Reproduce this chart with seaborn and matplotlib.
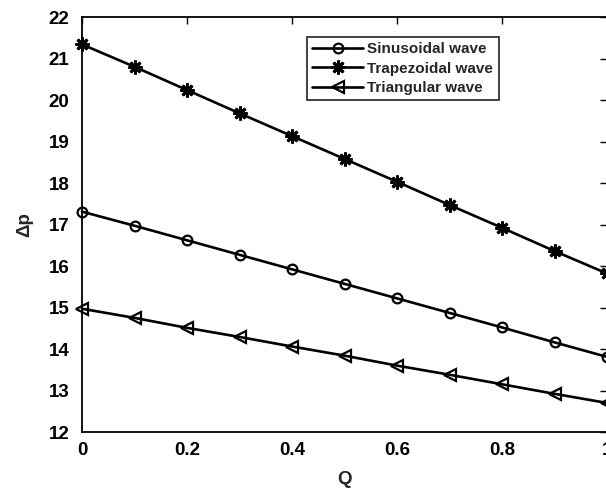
import numpy as np
import pandas as pd
import matplotlib
matplotlib.use("Agg")
import matplotlib.pyplot as plt
import seaborn as sns

Q = [0.0, 0.1, 0.2, 0.3, 0.4, 0.5, 0.6, 0.7, 0.8, 0.9, 1.0]
sinusoidal = [17.31, 16.97, 16.62, 16.27, 15.92, 15.57, 15.22, 14.87, 14.52, 14.16, 13.81]
trapezoidal = [21.34, 20.80, 20.24, 19.68, 19.13, 18.58, 18.03, 17.47, 16.92, 16.36, 15.82]
triangular = [14.97, 14.75, 14.51, 14.29, 14.06, 13.84, 13.60, 13.38, 13.15, 12.92, 12.70]
series_names = ["Sinusoidal wave", "Trapezoidal wave", "Triangular wave"]
x_ticks = [0, 0.2, 0.4, 0.6, 0.8, 1]
x_tick_labels = ["0", "0.2", "0.4", "0.6", "0.8", "1"]
y_ticks = list(range(12, 23))

sns.set_style("white")
plt.rcParams["font.family"] = ["Liberation Sans", "DejaVu Sans"]
plt.rcParams["font.weight"] = "bold"

df = pd.DataFrame({"Q": Q * 3,
                   "dp": sinusoidal + trapezoidal + triangular,
                   "series": [series_names[0]] * len(Q) + [series_names[1]] * len(Q) + [series_names[2]] * len(Q)})

fig = plt.figure(figsize=(6.06, 4.92), dpi=100)
ax = fig.add_axes([82 / 606, 60 / 492, 525 / 606, 415 / 492])

markers = {series_names[0]: dict(marker="o", markersize=7, markerfacecolor="none", markeredgewidth=1.6),
           series_names[1]: dict(marker=(8, 2, 0), markersize=10, markeredgewidth=2.0),
           series_names[2]: dict(marker="<", markersize=8, markerfacecolor="none", markeredgewidth=1.6)}
for name in series_names:
    sub = df[df["series"] == name]
    sns.lineplot(data=sub, x="Q", y="dp", ax=ax, color="black", linewidth=1.9,
                 label=name, markeredgecolor="black", clip_on=False, **markers[name])

ax.set_xlim(0, 1)
ax.set_ylim(12, 22)
ax.set_xticks(x_ticks)
ax.set_xticklabels(x_tick_labels)
ax.set_yticks(y_ticks)
ax.tick_params(direction="in", length=5, width=1, top=True, right=True, labelsize=13.5, colors="black")
ax.tick_params(axis="x", pad=7)
ax.tick_params(axis="y", pad=9)
for lab in ax.get_xticklabels() + ax.get_yticklabels():
    lab.set_fontweight("bold")
for sp in ax.spines.values():
    sp.set_visible(True)
    sp.set_color("black")
    sp.set_linewidth(1.3)

ax.set_xlabel("Q", fontsize=13.5, fontweight="bold", labelpad=9)
ax.set_ylabel("Δp", fontsize=13.5, fontweight="bold", labelpad=11)

leg = ax.legend(loc="upper left", bbox_to_anchor=(225 / 525, (432 - 37) / 415), borderaxespad=0,
                frameon=True, fancybox=False, edgecolor="black", fontsize=11,
                handlelength=3.3, handletextpad=0.3, labelspacing=0.35, borderpad=0.35)
leg.get_frame().set_linewidth(1.3)
for t in leg.get_texts():
    t.set_fontweight("bold")

fig.savefig("out.png", dpi=100)
